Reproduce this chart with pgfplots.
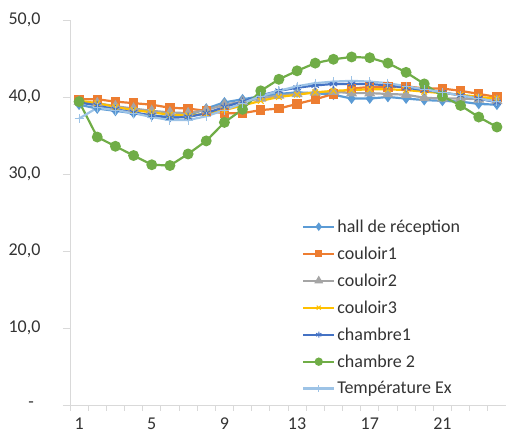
\documentclass[border=0pt]{standalone}
\usepackage{fontspec}
\setmainfont{Carlito}
\usepackage{pgfplots}
\usepackage{pgfplotstable}
\pgfplotsset{compat=1.18}
\definecolor{cHall}{HTML}{5B9BD5}
\definecolor{cCa}{HTML}{ED7D31}
\definecolor{cCb}{HTML}{A5A5A5}
\definecolor{cCc}{HTML}{FFC000}
\definecolor{cChA}{HTML}{4472C4}
\definecolor{cChB}{HTML}{70AD47}
\definecolor{cEx}{HTML}{9DC3E6}
\definecolor{axisgray}{HTML}{D9D9D9}
\definecolor{labgray}{HTML}{333333}
\pgfplotstableread{
x  h    ca   cb   cc   cha  chb  ex
1  39.0 39.7 39.4 39.5 39.3 39.4 37.2
2  38.5 39.7 39.2 39.2 38.9 34.8 38.6
3  38.2 39.4 38.8 38.7 38.4 33.6 38.3
4  37.9 39.2 38.5 38.3 38.0 32.4 37.9
5  37.6 39.0 38.2 38.0 37.6 31.2 37.4
6  37.4 38.6 38.0 37.7 37.3 31.1 37.0
7  37.6 38.5 37.9 37.6 37.4 32.6 37.0
8  38.5 38.2 38.3 37.8 37.9 34.3 37.5
9  39.3 37.9 39.0 38.3 38.7 36.7 38.3
10 39.7 37.9 39.4 38.9 39.4 38.4 39.2
11 40.1 38.3 39.8 39.5 40.2 40.8 40.1
12 40.4 38.5 40.2 40.0 40.8 42.3 40.8
13 40.6 39.1 40.4 40.3 41.2 43.4 41.4
14 40.5 39.7 40.6 40.6 41.5 44.4 41.8
15 40.3 40.4 40.7 40.8 41.7 44.9 42.0
16 39.8 41.1 40.5 40.9 41.7 45.2 42.1
17 39.8 41.3 40.5 41.0 41.7 45.1 42.0
18 40.0 41.3 40.4 41.0 41.5 44.4 41.8
19 39.8 41.4 40.3 40.9 41.2 43.2 41.4
20 39.6 41.1 39.9 40.7 40.9 41.7 41.0
21 39.5 41.1 39.8 40.5 40.6 40.1 40.6
22 39.4 40.8 39.8 40.3 40.2 38.9 40.2
23 39.1 40.4 39.7 40.0 39.8 37.4 39.8
24 39.0 40.0 39.5 39.8 39.3 36.1 39.4
}\datatable
\begin{document}
\begin{tikzpicture}
\begin{axis}[
  width=436pt, height=385pt, scale only axis,
  xmin=0.5, xmax=24.5, ymin=0, ymax=50,
  axis lines*=left,
  axis line style={draw=axisgray, line width=0.8pt},
  xtick={1,5,9,13,17,21}, xticklabels={1,5,9,13,17,21},
  minor xtick={0.5,1.5,...,24.5},
  ytick={0,10,20,30,40,50},
  yticklabels={{\makebox[12pt][l]{-}},{10,0},{20,0},{30,0},{40,0},{50,0}},
  tick align=outside,
  major tick length=7pt, minor tick length=6pt,
  major x tick style={draw=none},
  tick style={draw=axisgray, line width=0.8pt},
  /pgf/number format/assume math mode=true,
  ticklabel style={font=\fontsize{18}{21}\selectfont, text=labgray},
  yticklabel style={xshift=-19pt},
  xticklabel style={yshift=-2pt},
  every axis plot/.append style={line width=2.2pt},
  legend style={draw=none, fill=none, font=\fontsize{18}{21}\selectfont, text=labgray,
    at={(0.532,0.487)}, anchor=north west, row sep=9pt,
    cells={anchor=west}, inner sep=0pt},
  legend image code/.code={\draw[mark repeat=2,mark phase=2,every mark/.append style={scale=0.7}] plot coordinates {(0pt,0pt) (15.5pt,0pt) (31pt,0pt)};},
]
\coordinate (sw) at (rel axis cs:0,0);
\coordinate (ne) at (rel axis cs:1,1);
\addplot[cHall, mark=diamond*, mark size=3.6pt] table[x=x,y=h]{\datatable};
\addlegendentry{hall de réception}
\addplot[cCa, mark=square*, mark size=3.6pt] table[x=x,y=ca]{\datatable};
\addlegendentry{couloir1}
\addplot[cCb, mark=triangle*, mark size=4.2pt] table[x=x,y=cb]{\datatable};
\addlegendentry{couloir2}
\addplot[cCc, mark=x, mark size=4pt, mark options={line width=1pt}] table[x=x,y=cc]{\datatable};
\addlegendentry{couloir3}
\addplot[cChA, mark=asterisk, mark size=4.3pt, mark options={line width=1pt}] table[x=x,y=cha]{\datatable};
\addlegendentry{chambre1}
\addplot[cChB, mark=*, mark size=4.3pt] table[x=x,y=chb]{\datatable};
\addlegendentry{chambre 2}
\addplot[cEx, mark=+, mark size=4.5pt, mark options={line width=1pt}] table[x=x,y=ex]{\datatable};
\addlegendentry{Température Ex}
\end{axis}
\pgfresetboundingbox
\path ([shift={(-70pt,-31pt)}]sw) rectangle ([shift={(0pt,20pt)}]ne);
\end{tikzpicture}
\end{document}
